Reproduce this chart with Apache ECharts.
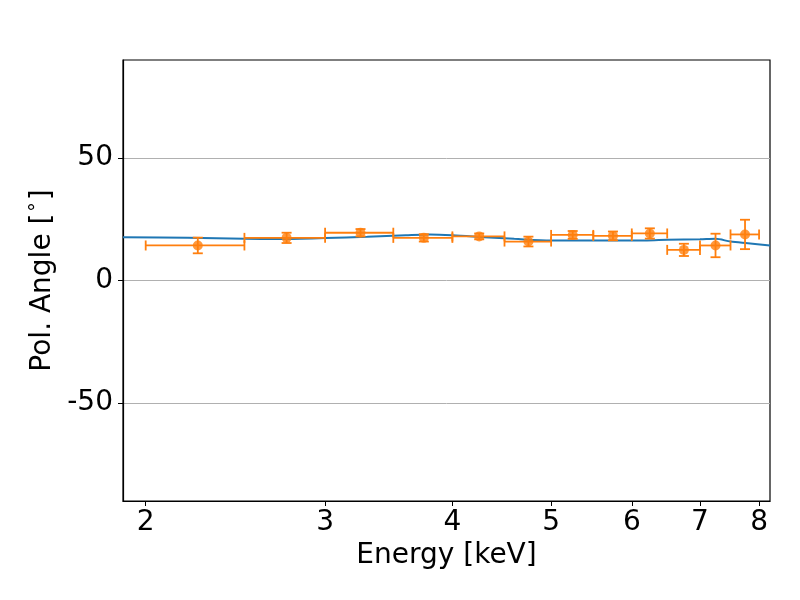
<!DOCTYPE html>
<html>
<head>
<meta charset="utf-8">
<script src="https://cdn.jsdelivr.net/npm/echarts@6/dist/echarts.min.js"></script>
<style>html,body{margin:0;padding:0;background:#fff}#c{width:800px;height:600px}</style>
</head>
<body>
<div id="c"></div>
<script>
// Data
const binCenters = [2.25, 2.75, 3.25, 3.75, 4.25, 4.75, 5.25, 5.75, 6.25, 6.75, 7.25, 7.75];
const binLow     = [2.0, 2.5, 3.0, 3.5, 4.0, 4.5, 5.0, 5.5, 6.0, 6.5, 7.0, 7.5];
const binHigh    = [2.5, 3.0, 3.5, 4.0, 4.5, 5.0, 5.5, 6.0, 6.5, 7.0, 7.5, 8.0];
const polAngle   = [14.3, 17.4, 19.5, 17.4, 18.0, 15.9, 18.6, 18.2, 19.2, 12.5, 14.3, 18.8];
const polAngleErr= [3.2, 2.1, 1.5, 1.5, 1.2, 2.0, 1.6, 1.8, 2.1, 2.5, 4.8, 6.0];
const modelEnergy= [1.9, 2.2, 2.5, 2.7, 3.0, 3.3, 3.6, 3.8, 4.0, 4.3, 4.6, 5.0, 5.5, 6.0, 6.5, 7.0, 7.25, 7.5, 7.8, 8.2];
const modelAngle = [17.7, 17.4, 17.0, 16.9, 17.3, 17.9, 18.5, 18.8, 18.5, 17.7, 17.0, 16.3, 16.3, 16.3, 16.6, 16.8, 17.0, 15.9, 15.2, 14.3];
const xTicks = [2, 3, 4, 5, 6, 7, 8];
const yTicks = [-50, 0, 50];

const errData = binCenters.map((e, i) => [e, binLow[i], binHigh[i], polAngle[i], polAngleErr[i]]);
const modelData = modelEnergy.map((e, i) => [e, modelAngle[i]]);
const pointData = binCenters.map((e, i) => [e, polAngle[i]]);

const orange = '#ff7f0e';
const blue = '#1f77b4';
const font = 'DejaVu Sans';

const chart = echarts.init(document.getElementById('c'), null, {renderer: 'canvas'});
chart.setOption({
  animation: false,
  backgroundColor: '#fff',
  grid: {left: 123, top: 60, width: 647, height: 441, show: true, borderColor: '#000', borderWidth: 1.2, backgroundColor: 'transparent'},
  xAxis: {
    type: 'log', logBase: 10, min: 1.9, max: 8.2,
    name: 'Energy [keV]', nameLocation: 'middle', nameGap: 37,
    nameTextStyle: {fontFamily: font, fontSize: 28, color: '#000'},
    axisLine: {show: true, onZero: false, lineStyle: {color: '#000', width: 1.2}},
    axisTick: {show: true, length: 5, lineStyle: {color: '#000'}, customValues: xTicks},
    axisLabel: {fontFamily: font, fontSize: 28, color: '#000', margin: 8, customValues: xTicks, formatter: v => String(Math.round(v))},
    minorTick: {show: false},
    splitLine: {show: false},
    minorSplitLine: {show: false}
  },
  yAxis: {
    type: 'value', min: -90, max: 90,
    name: 'Pol. Angle [{d|\u200A°\u200A}]', nameLocation: 'middle', nameGap: 66, nameRotate: 90,
    nameTextStyle: {fontFamily: font, fontSize: 28, color: '#000',
      rich: {d: {fontFamily: font, fontSize: 19, color: '#000', verticalAlign: 'top', padding: [0, 0, 6, 0]}}},
    axisLine: {show: true, onZero: false, lineStyle: {color: '#000', width: 1.2}},
    axisTick: {show: true, length: 5, lineStyle: {color: '#000'}, customValues: yTicks},
    axisLabel: {fontFamily: font, fontSize: 28, color: '#000', margin: 10, customValues: yTicks},
    splitLine: {show: true, lineStyle: {color: '#b0b0b0', width: 1}}
  },
  series: [
    {
      type: 'line', data: modelData, smooth: 0.3, showSymbol: false,
      lineStyle: {color: blue, width: 2}, z: 2
    },
    {
      type: 'custom', z: 3,
      data: errData,
      renderItem: function (params, api) {
        const e = api.value(0), lo = api.value(1), hi = api.value(2), a = api.value(3), er = api.value(4);
        const pL = api.coord([lo, a]), pR = api.coord([hi, a]);
        const pT = api.coord([e, a + er]), pB = api.coord([e, a - er]);
        const cap = 5;
        const st = {stroke: orange, lineWidth: 1.8, fill: null};
        return {
          type: 'group',
          children: [
            {type: 'line', shape: {x1: pL[0], y1: pL[1], x2: pR[0], y2: pR[1]}, style: st},
            {type: 'line', shape: {x1: pL[0], y1: pL[1] - cap, x2: pL[0], y2: pL[1] + cap}, style: st},
            {type: 'line', shape: {x1: pR[0], y1: pR[1] - cap, x2: pR[0], y2: pR[1] + cap}, style: st},
            {type: 'line', shape: {x1: pT[0], y1: pT[1], x2: pB[0], y2: pB[1]}, style: st},
            {type: 'line', shape: {x1: pT[0] - cap, y1: pT[1], x2: pT[0] + cap, y2: pT[1]}, style: st},
            {type: 'line', shape: {x1: pB[0] - cap, y1: pB[1], x2: pB[0] + cap, y2: pB[1]}, style: st}
          ]
        };
      }
    },
    {
      type: 'scatter', data: pointData, symbol: 'circle', symbolSize: 10, z: 4,
      itemStyle: {color: orange}
    }
  ]
});
</script>
</body>
</html>
